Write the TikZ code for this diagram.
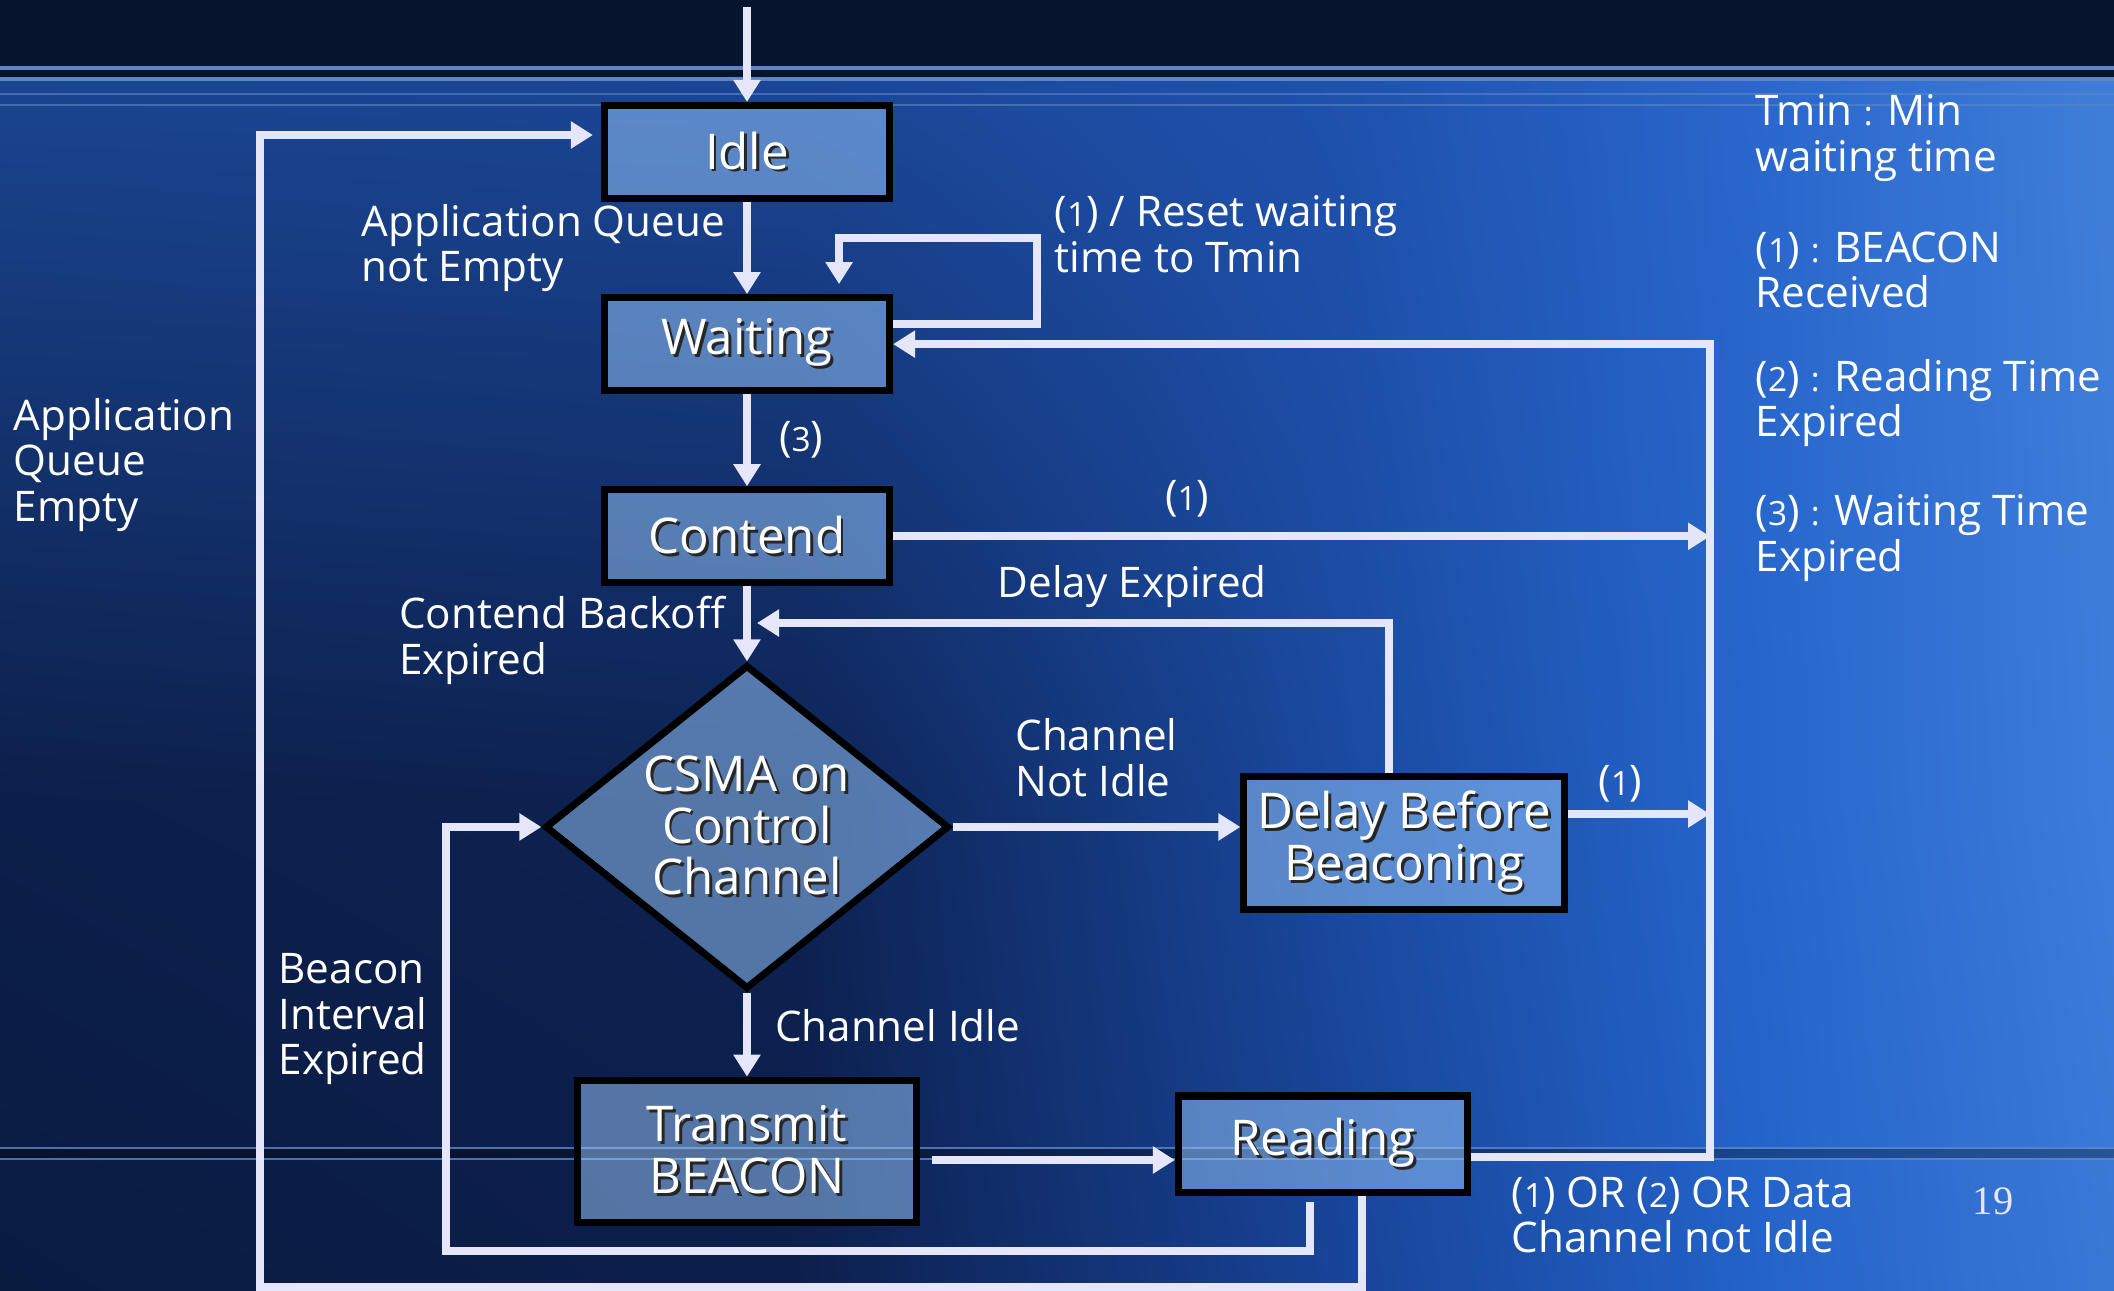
\documentclass[tikz,border=0pt]{standalone}
\usepackage{fontspec}
\setmainfont{Open Sans}
\newfontfamily\pagenumfont{Liberation Serif}
\usepackage{xcolor}
\definecolor{cLine}{HTML}{E6E6FA}
\definecolor{cBox}{HTML}{9CCCFF}
\definecolor{cTop}{HTML}{06142E}
\definecolor{cRule}{HTML}{5E86C6}
% background: top row, middle row, bottom row of colours
\definecolor{cTa}{HTML}{1A4590}
\definecolor{cTb}{HTML}{1B4696}
\definecolor{cTc}{HTML}{1F52AE}
\definecolor{cTd}{HTML}{2A66CC}
\definecolor{cTe}{HTML}{3F7ED8}
\definecolor{cMa}{HTML}{0C1F4A}
\definecolor{cMb}{HTML}{0D2252}
\definecolor{cMc}{HTML}{1A4AA0}
\definecolor{cMd}{HTML}{2566CC}
\definecolor{cMe}{HTML}{3D7CDA}
\definecolor{cBa}{HTML}{0A1B40}
\definecolor{cBb}{HTML}{0C1F4C}
\definecolor{cBc}{HTML}{184499}
\definecolor{cBd}{HTML}{2362C8}
\definecolor{cBe}{HTML}{3A78D6}
\usetikzlibrary{positioning,arrows.meta,shapes.geometric,shadings}

\newcommand\nodefont{\fontsize{14}{14.6}\selectfont}
\newcommand\lblfont{\fontsize{12}{13}\selectfont}
\newcommand\refnum[1]{({\fontsize{9.5}{10}\selectfont #1})}
\newcommand\lcolon{{\fontsize{9.5}{10}\selectfont :}}
% white text with a small dark drop shadow
\newcommand\shd[1]{\makebox[0pt][l]{\kern0.8pt\raisebox{-0.8pt}{\color{black!85}#1}}#1}

\tikzset{
  node-box/.style={draw=black,line width=2pt,fill=cBox,fill opacity=0.5,
    text opacity=1,text=white,font=\nodefont,align=center,inner sep=0pt,
    minimum width=2.85cm,minimum height=0.93cm},
  node-decision/.style={node-box,diamond,shape aspect=1.25,
    minimum width=4.04cm,minimum height=3.24cm},
  arrow/.style={-{Triangle[length=2.2mm,width=2.6mm]},line width=2.3pt,draw=cLine},
  lbl/.style={text=white,font=\lblfont,align=left,inner sep=0pt},
}

\begin{document}
\begin{tikzpicture}[x=0.01cm,y=-0.01cm,node distance=9.2mm]
  % background
  \useasboundingbox (0,0) rectangle (2114,1290);
  \shade[upper left=cTa,upper right=cTb,lower left=cMa,lower right=cMb] (0,78) rectangle (801,801);
  \shade[upper left=cTb,upper right=cTc,lower left=cMb,lower right=cMc] (800,78) rectangle (1351,801);
  \shade[upper left=cTc,upper right=cTd,lower left=cMc,lower right=cMd] (1350,78) rectangle (1751,801);
  \shade[upper left=cTd,upper right=cTe,lower left=cMd,lower right=cMe] (1750,78) rectangle (2114,801);
  \shade[upper left=cMa,upper right=cMb,lower left=cBa,lower right=cBb] (0,800) rectangle (801,1290);
  \shade[upper left=cMb,upper right=cMc,lower left=cBb,lower right=cBc] (800,800) rectangle (1351,1290);
  \shade[upper left=cMc,upper right=cMd,lower left=cBc,lower right=cBd] (1350,800) rectangle (1751,1290);
  \shade[upper left=cMd,upper right=cMe,lower left=cBd,lower right=cBe] (1750,800) rectangle (2114,1290);
  \fill[cTop] (0,0) rectangle (2114,78);
  \draw[cRule,line width=0.9pt] (0,68) -- (2114,68) (0,79) -- (2114,79);
  \draw[cRule,line width=0.8pt,opacity=0.6] (0,94) -- (2114,94) (0,105) -- (2114,105);
  \fill[black,opacity=0.3] (0,1149) rectangle (2114,1158);
  \draw[cRule,line width=0.8pt,opacity=0.8] (0,1148) -- (2114,1148) (0,1159) -- (2114,1159);

  % states
  \node[node-box] (idle) at (747,152) {\shd{Idle}};
  \node[node-box,below=of idle] (waiting) {\shd{Waiting}};
  \node[node-box,below=of waiting] (contend) {\shd{Contend}};
  \node[node-decision,below=7.5mm of contend] (csma) {\shd{CSMA on}\\\shd{Control}\\\shd{Channel}};
  \node[node-box,below=8.4mm of csma,minimum width=3.38cm,minimum height=1.42cm] (transmit) {\shd{Transmit}\\\shd{BEACON}};
  \node[node-box,minimum width=3.20cm,minimum height=1.32cm] (delay) at (1404,843) {\shd{Delay Before}\\\shd{Beaconing}};
  \node[node-box,minimum width=2.89cm,minimum height=0.96cm] (reading) at (1323,1144) {\shd{Reading}};

  \coordinate (entry) at (747,7);
  \coordinate (bus) at (1710,345);
  \coordinate (delayout) at ([yshift=2.9mm]delay.east);

  % transitions
  \draw[arrow] (entry) -- (idle);
  \draw[arrow] (idle) -- (waiting)
    node[lbl,midway,left=1.8mm] {Application Queue\\not Empty};
  \draw[arrow,shorten >=1mm] (waiting.east |- 0,324) -| (1037,238) -| ([xshift=9.2mm]waiting.north);
  \draw[arrow] (waiting) -- (contend) node[lbl,midway,right=2.8mm] {\refnum{3}};
  \draw[arrow] (contend) -- (contend -| bus) node[lbl,pos=0.36,above=1.5mm] {\refnum{1}};
  \draw[arrow] (contend) -- (csma)
    node[lbl,pos=0.72,left=1.8mm] {Contend Backoff\\Expired};
  \draw[arrow,shorten >=1mm] ([xshift=-1.5mm]delay.north) |- (contend.south |- 0,623)
    node[lbl,pos=0.7,above=1.1mm] {Delay Expired};
  \draw[arrow] (csma) -- (csma -| delay.west)
    node[lbl,midway,above=2.6mm] {Channel\\Not Idle};
  \draw[arrow] (delayout) -- (delayout -| bus) node[lbl,pos=0.37,above=0.8mm] {\refnum{1}};
  \draw[arrow] (csma) -- (transmit) node[lbl,pos=0.39,right=2.4mm] {Channel Idle};
  \draw[arrow,shorten <=1.2mm] (transmit.east |- 0,1160) -- (reading.west |- 0,1160);
  \draw[arrow] (reading.east |- 0,1157) -| (waiting -| bus) -- (waiting);
  \draw[arrow,shorten <=0.6mm] ([xshift=-1.3mm]reading.south) |- (446,1251) |- (csma);
  \draw[arrow,shorten >=0.8mm] ([xshift=3.9mm]reading.south) |- (260,1287) |- ([yshift=1.7mm]idle.west);

  % free labels
  \node[lbl,anchor=west] (resetlbl) at (1054,234) {\refnum{1} / Reset waiting\\time to Tmin};
  \node[lbl,anchor=west] (emptylbl) at (13,465) {Application\\Queue\\Empty};
  \node[lbl,anchor=east] (beaconlbl) at (428,1019) {Beacon\\Interval\\Expired};
  \node[lbl,anchor=west] (orlbl) at (1511,1215) {\refnum{1} OR \refnum{2} OR Data\\Channel not Idle};

  % legend
  \node[lbl,anchor=west] (keytmin) at (1755,138) {Tmin \lcolon{} Min\\waiting time};
  \node[lbl,anchor=west] (keyone) at (1755,270) {\refnum{1} \lcolon{} BEACON\\Received};
  \node[lbl,anchor=west] (keytwo) at (1755,403) {\refnum{2} \lcolon{} Reading Time\\Expired};
  \node[lbl,anchor=west] (keythree) at (1755,538) {\refnum{3} \lcolon{} Waiting Time\\Expired};

  \node[font=\pagenumfont\fontsize{11.5}{12}\selectfont,text=cLine] (pagenum) at (1993,1201) {19};
\end{tikzpicture}
\end{document}
